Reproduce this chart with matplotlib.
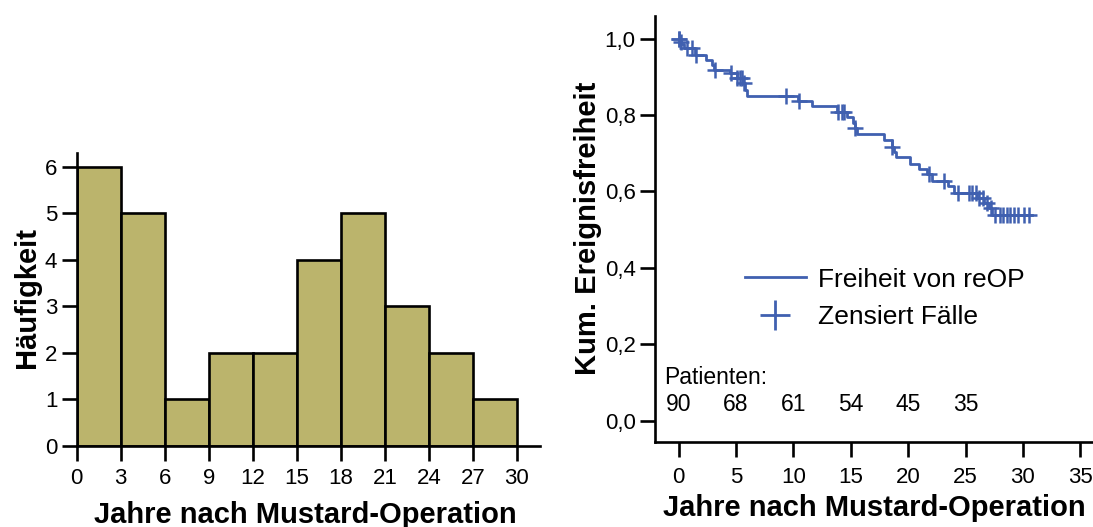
import matplotlib.pyplot as plt
import numpy as np
from matplotlib.lines import Line2D

plt.rcParams['font.family'] = ['Liberation Sans', 'DejaVu Sans']

# histogram: years after Mustard operation
bin_edges = [0, 3, 6, 9, 12, 15, 18, 21, 24, 27, 30]
counts = [6, 5, 1, 2, 2, 4, 5, 3, 2, 1]

# Kaplan-Meier: freedom from re-operation
event_t = [0.0, 0.1, 0.25, 0.45, 1.4, 2.35, 2.9, 3.05, 4.5, 5.05, 5.65, 5.8, 5.95,
           10.4, 11.6, 13.8, 14.7, 15.2, 15.35, 15.5, 17.9, 18.6, 18.75, 18.9,
           20.2, 20.9, 21.6, 22.1, 23.5, 24.0, 26.0, 26.6, 27.0, 27.3, 30.8]
surv = [1.0, 0.992, 0.985, 0.974, 0.958, 0.944, 0.932, 0.918, 0.909, 0.896, 0.883, 0.865, 0.850,
        0.837, 0.823, 0.808, 0.795, 0.780, 0.765, 0.749, 0.734, 0.717, 0.704, 0.691,
        0.673, 0.659, 0.645, 0.628, 0.614, 0.597, 0.583, 0.569, 0.556, 0.538, 0.538]
censor_t = [0.0, 0.05, 0.2, 0.7, 1.15, 1.5, 3.2, 4.6, 5.1, 5.35, 5.5, 5.7, 9.4, 10.5,
            13.9, 14.2, 14.4, 15.4, 18.6, 21.8, 23.1, 24.3, 25.3, 25.6, 25.9, 26.2, 26.5,
            26.9, 27.2, 27.6, 28.0, 28.3, 28.6, 28.9, 29.2, 29.6, 30.1, 30.5]
risk_t = [0, 5, 10, 15, 20, 25]
at_risk = ['90', '68', '61', '54', '45', '35']

bar_col = '#BBB46C'
km_col = '#4060B0'

fig = plt.figure(figsize=(10.93, 5.27), dpi=100)

# ---- left: histogram
ax1 = fig.add_axes([0.0702, 0.1537, 0.4238, 0.5565])
widths = np.diff(bin_edges)
ax1.bar(bin_edges[:-1], counts, width=widths, align='edge', color=bar_col,
        edgecolor='black', linewidth=1.9, zorder=2)
ax1.set_xlim(0, 31.57)
ax1.set_ylim(0, 6.3)
ax1.set_xticks(bin_edges)
ax1.set_yticks(range(7))
for s in ['top', 'right']:
    ax1.spines[s].set_visible(False)
for s in ['left', 'bottom']:
    ax1.spines[s].set_linewidth(1.9)
ax1.tick_params(length=11, width=1.9, labelsize=16)
ax1.tick_params(axis='x', pad=5)
ax1.tick_params(axis='y', pad=3)
fig.text(0.279, 0.023, 'Jahre nach Mustard-Operation', fontsize=21, fontweight='bold',
         ha='center', va='center')
fig.text(0.025, 0.4355, 'Häufigkeit', fontsize=21, fontweight='bold',
         rotation=90, ha='center', va='center')

# ---- right: Kaplan-Meier
ax2 = fig.add_axes([0.5993, 0.1619, 0.4007, 0.8077])
ax2.step(event_t, surv, where='post', color=km_col, lw=2.0)
idx = np.searchsorted(event_t, censor_t, side='right') - 1
censor_s = np.array(surv)[idx]
ax2.plot(censor_t, censor_s, ls='none', marker='+', color=km_col, ms=11, mew=1.8)
ax2.set_xlim(-2.05, 36.1)
ax2.set_ylim(-0.055, 1.059)
ax2.set_xticks(range(0, 40, 5))
ax2.set_yticks([0.0, 0.2, 0.4, 0.6, 0.8, 1.0])
ax2.set_yticklabels(['0,0', '0,2', '0,4', '0,6', '0,8', '1,0'])
for s in ['top', 'right']:
    ax2.spines[s].set_visible(False)
for s in ['left', 'bottom']:
    ax2.spines[s].set_linewidth(1.9)
ax2.tick_params(length=11, width=1.9, labelsize=16)
ax2.tick_params(axis='x', pad=7)
ax2.tick_params(axis='y', pad=3)

handles = [Line2D([], [], color=km_col, lw=2.0),
           Line2D([], [], color=km_col, ls='none', marker='+', ms=22, mew=2.0)]
ax2.legend(handles, ['Freiheit von reOP', 'Zensiert Fälle'], loc='center left',
           bbox_to_anchor=(0.2055, 0.337), frameon=False, fontsize=19,
           handlelength=2.3, handletextpad=0.45, borderpad=0, borderaxespad=0,
           labelspacing=0.5)

ax2.text(-1.26, 0.114, 'Patienten:', fontsize=16.5, ha='left', va='center')
for t, n in zip(risk_t, at_risk):
    ax2.text(t, 0.041, n, fontsize=16.5, ha='center', va='center')

fig.text(0.7995, 0.036, 'Jahre nach Mustard-Operation', fontsize=21, fontweight='bold',
         ha='center', va='center')
fig.text(0.538, 0.566, 'Kum. Ereignisfreiheit', fontsize=21, fontweight='bold',
         rotation=90, ha='center', va='center')

fig.savefig('out.png', dpi=100)
